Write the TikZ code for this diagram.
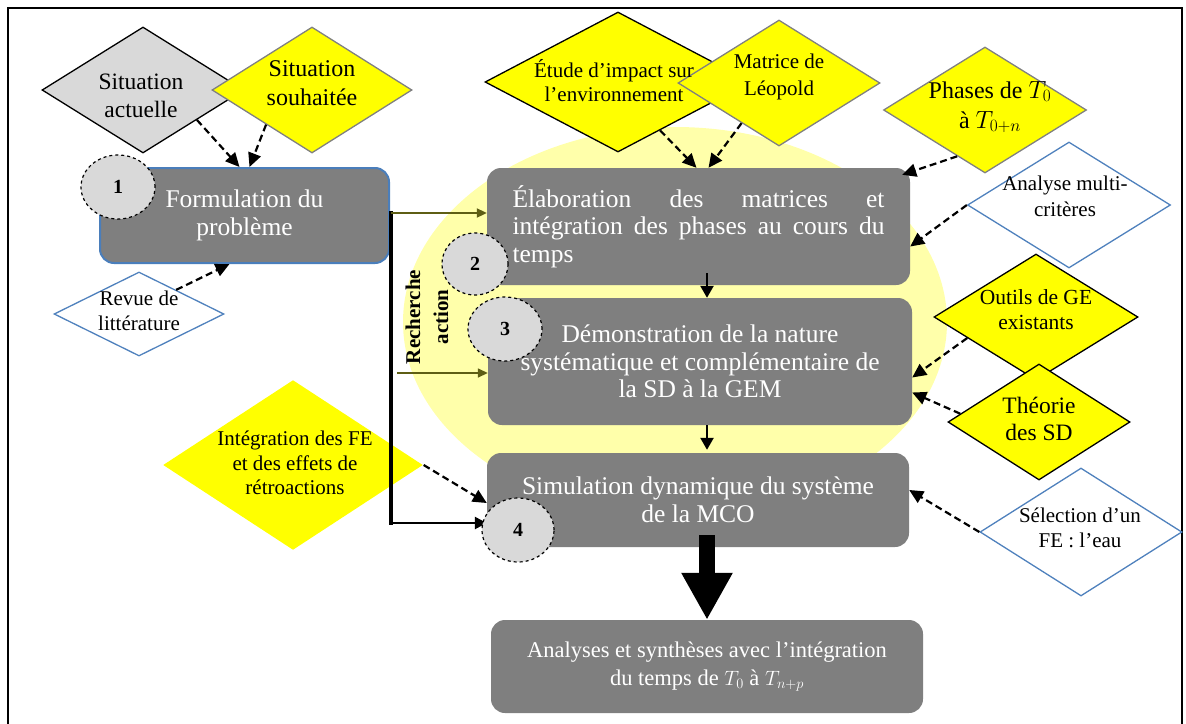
\documentclass[tikz,border=0pt]{standalone}
\usepackage{fontspec}
\usetikzlibrary{shapes.geometric,arrows.meta,calc}
\newfontfamily\tnr{Liberation Serif}
\definecolor{ylw}{HTML}{FFFF00}
\definecolor{lyl}{HTML}{FFFFAA}
\definecolor{gbox}{HTML}{7F7F7F}
\definecolor{lgr}{HTML}{D9D9D9}
\definecolor{bluebd}{HTML}{4F81BD}
\definecolor{fpblue}{HTML}{4A7EBB}
\definecolor{bordgray}{HTML}{808080}
\definecolor{olv}{HTML}{5E5E14}
\begin{document}
\begin{tikzpicture}[x=1pt,y=-1pt,
  dia/.style={diamond, inner sep=0pt, line width=1.3pt},
  dt/.style={font=\tnr\fontsize{21}{24.5}\selectfont, align=center, text=black, inner sep=0pt},
  gb/.style={rectangle, rounded corners=14pt, fill=gbox, inner sep=0pt, text=white, align=center, font=\tnr\fontsize{25.5}{27.5}\selectfont},
  num/.style={ellipse, fill=lgr, draw=black, dashed, line width=1.2pt, inner sep=0pt, font=\tnr\bfseries\fontsize{20}{20}\selectfont},
  da/.style={line width=2.2pt, dash pattern=on 7pt off 4pt, -{Triangle[length=14pt,width=13pt]}},
  solarr/.style={line width=2.5pt, -{Triangle[length=12pt,width=13pt]}}
]
\useasboundingbox (0,0) rectangle (1186,723);
% frame
\draw[line width=1.8pt] (8,730) -- (8,8) -- (1182,8) -- (1182,730);
% background ellipse
\node[ellipse, fill=lyl, minimum width=544pt, minimum height=390pt, inner sep=0pt] (bg) at (675,322) {};

% diamonds
\node[dia, fill=lgr, draw=black, minimum width=202pt, minimum height=126pt] (sa) at (143,90) {};
\node[dt, font=\tnr\fontsize{23.5}{28}\selectfont] (sat) at (141,96) {Situation\\actuelle};
\node[dia, fill=ylw, draw=bordgray, minimum width=200pt, minimum height=126pt] (ss) at (312,90) {};
\node[dt, font=\tnr\fontsize{24}{29}\selectfont] (sst) at (312,83) {Situation\\souhaitée};
\node[dia, fill=white, draw=bluebd, minimum width=170pt, minimum height=84pt] (rl) at (139,314) {};
\node[dt, font=\tnr\fontsize{21}{25}\selectfont] (rlt) at (139,311) {Revue de\\littérature};
\node[dia, fill=ylw, minimum width=260pt, minimum height=170pt] (ife) at (293,465) {};
\node[dt] (ifet) at (295,463) {Intégration des FE\\et des effets de\\rétroactions};
\node[dia, fill=ylw, draw=black, minimum width=266pt, minimum height=140pt] (ei) at (618,82) {};
\node[dia, fill=ylw, draw=bordgray, minimum width=202pt, minimum height=126pt] (ml) at (779,83) {};
\node[dt, font=\tnr\fontsize{21}{24}\selectfont] (eit) at (614,81) {Étude d’impact sur\\l’environnement};
\node[dt, font=\tnr\fontsize{21}{27}\selectfont] (mlt) at (779,77) {Matrice de\\Léopold};
\node[dia, fill=ylw, draw=bordgray, minimum width=203pt, minimum height=126pt] (ph) at (985,110) {};
\node[dt, font=\tnr\fontsize{24}{30}\selectfont] (pht) at (990,107) {Phases de $T_0$\\à $T_{0+n}$};
\node[dia, fill=white, draw=bluebd, minimum width=203pt, minimum height=126pt] (am) at (1069,205) {};
\node[dt, font=\tnr\fontsize{21}{26}\selectfont] (amt) at (1065,196) {Analyse multi-\\critères};
\node[dia, fill=ylw, draw=black, minimum width=204pt, minimum height=126pt] (og) at (1036,317) {};
\node[dt, font=\tnr\fontsize{21.5}{25}\selectfont] (ogt) at (1036,310) {Outils de GE\\existants};
\node[dia, fill=ylw, draw=black, minimum width=182pt, minimum height=116pt] (ts) at (1039,422) {};
\node[dt, font=\tnr\fontsize{23.5}{27}\selectfont] (tst) at (1039,419) {Théorie\\des SD};
\node[dia, fill=white, draw=bluebd, minimum width=202pt, minimum height=128pt] (se) at (1081,532) {};
\node[dt, font=\tnr\fontsize{21}{25}\selectfont] (set) at (1080,528) {Sélection d’un\\FE : l’eau};

% boxes
\node[gb, draw=fpblue, line width=2pt, minimum width=289pt, minimum height=95pt] (fp) at (244.5,215.5) {Formulation du\\problème};
\node[gb, minimum width=423pt, minimum height=117pt, text width=372pt, align=justify,
      execute at begin node={\hyphenpenalty=10000 \tolerance=10000 }] (b1) at (698.5,226.5)
      {Élaboration des matrices et\linebreak intégration des phases au cours du\linebreak temps};
\node[gb, minimum width=424pt, minimum height=127pt] (b2) at (700,361.5) {Démonstration de la nature\\systématique et complémentaire de\\la SD à la GEM};
\node[gb, minimum width=422pt, minimum height=94pt] (b3) at (698,500) {Simulation dynamique du système\\de la MCO};
\node[gb, minimum width=432pt, minimum height=93pt, font=\tnr\fontsize{22.5}{28}\selectfont] (b4) at (707,666.5) {Analyses et synthèses avec l’intégration\\du temps de $T_0$ à $T_{n+p}$};

% dashed input arrows
\draw[da] (sa.-29) -- ([xshift=-5pt]fp.north);
\draw[da] (ss.-143) -- ([xshift=5pt]fp.north);
\draw[da] (rl.33) -- ([xshift=-15pt]fp.south);
\draw[da] (ei.-49) -- ([xshift=-2pt]b1.north);
\draw[da] (ml.-133) -- ([xshift=10pt]b1.north);
\draw[da] (ph.-121) -- ([xshift=-8pt,yshift=-7pt]b1.north east);
\draw[da] (am.west) -- ([yshift=-20pt]b1.east);
\draw[da] (og.-163) -- ([yshift=-16pt]b2.east);
\draw[da] (ts.174) -- ([yshift=-31pt]b2.east);
\draw[da] (se.west) -- ([yshift=10pt]b3.east);
\draw[da] (ife.east) -- ([yshift=-3pt]b3.west);

% flow arrows
\draw[solarr] ([xshift=8.5pt,yshift=12pt]b1.south) -- ([xshift=7pt]b2.north);
\draw[solarr] ([xshift=7pt]b2.south) -- ([xshift=9pt,yshift=3pt]b3.north);
\draw[line width=16pt, -{Triangle[length=47pt,width=48pt]}] ([xshift=9pt,yshift=12pt]b3.south) -- (b4.north);

% Recherche action bracket
\coordinate (rtop) at (391,213);
\coordinate (rmid) at (397,373);
\coordinate (rbot) at (391,523);
\draw[line width=3.5pt, line cap=rect] (rtop) -- (rbot);
\draw[line width=2pt, olv, -{Triangle[length=10pt,width=9pt]}] (rtop) -- ([yshift=13.5pt]b1.west);
\draw[line width=1.5pt, olv, -{Triangle[length=10pt,width=9pt]}] (rmid) -- ([yshift=-11.5pt]b2.west);
\draw[line width=2.5pt, -{Triangle[length=12pt,width=12pt]}] (rbot) -- ([yshift=-23pt]b3.west);
\node[font=\tnr\bfseries\fontsize{21}{28}\selectfont, rotate=90, align=center, inner sep=0pt] (ra) at (427,317) {Recherche\\action};

% numbered circles
\node[num, minimum width=74pt, minimum height=64pt] (c1) at (118,187) {1};
\node[num, minimum width=66pt, minimum height=62pt] (c2) at (475,264) {2};
\node[num, minimum width=74pt, minimum height=64pt] (c3) at (505,329) {3};
\node[num, minimum width=72pt, minimum height=64pt] (c4) at (518,530) {4};
\end{tikzpicture}
\end{document}
